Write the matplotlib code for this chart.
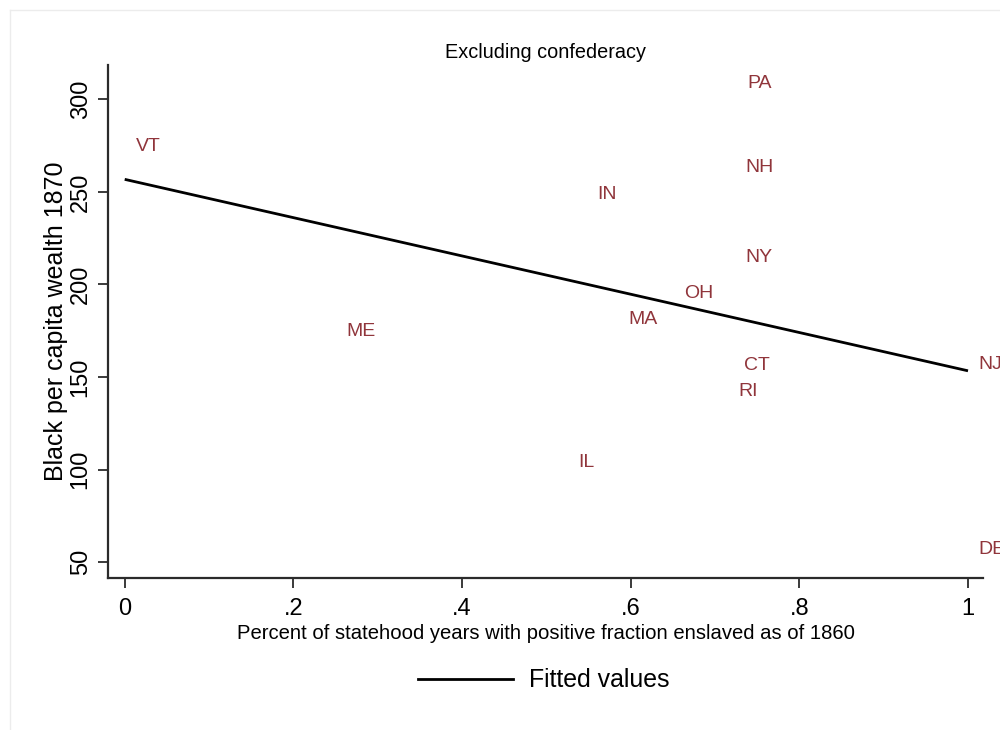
import numpy as np
import matplotlib
matplotlib.use("Agg")
import matplotlib.pyplot as plt
from matplotlib.lines import Line2D

plt.rcParams['font.family'] = ['Liberation Sans', 'DejaVu Sans']

# State-level data: share of statehood years with slavery vs. Black wealth in 1870
states = ["VT", "PA", "NH", "IN", "NY", "OH", "MA", "ME", "CT", "RI", "NJ", "IL", "DE"]
pct_enslaved_years = [0.000, 0.726, 0.723, 0.547, 0.723, 0.650, 0.584, 0.250,
                      0.722, 0.715, 1.000, 0.525, 1.000]
black_wealth_1870 = [275.6, 309.9, 264.3, 250.1, 215.7, 196.5, 182.5, 176.1,
                     157.6, 143.7, 158.2, 105.2, 58.5]

x_ticks = [0, 0.2, 0.4, 0.6, 0.8, 1.0]
x_tick_labels = ["0", ".2", ".4", ".6", ".8", "1"]
y_ticks = [50, 100, 150, 200, 250, 300]

label_color = "#90353B"
axis_color = "#2b2b2b"
label_size = 14

fig = plt.figure(figsize=(10, 7.3), dpi=100)
fig.patch.set_facecolor("white")

# faint outer graph-region frame
fig.add_artist(Line2D([0.010, 0.010], [0.0, 1 - 10 / 730], transform=fig.transFigure,
                      color="#ececec", lw=1))
fig.add_artist(Line2D([0.010, 1.0], [1 - 10 / 730, 1 - 10 / 730], transform=fig.transFigure,
                      color="#ececec", lw=1))

ax = fig.add_axes([0.1083, 0.2078, 0.8750, 0.7032])
ax.set_xlim(-0.01945, 1.01814)
ax.set_ylim(41.36, 318.52)

# linear fit through the state points
x = np.asarray(pct_enslaved_years)
y = np.asarray(black_wealth_1870)
slope, intercept = np.polyfit(x, y, 1)
xf = np.array([x.min(), x.max()])
ax.plot(xf, intercept + slope * xf, color="black", lw=2.0, solid_capstyle="butt",
        label="Fitted values", clip_on=False)

# state abbreviations as marker labels (no marker symbol), placed to the right
cap_half = 0.716 * label_size / 2
for name, xi, yi in zip(states, pct_enslaved_years, black_wealth_1870):
    ax.annotate(name, (xi, yi), xytext=(7.8, -cap_half), textcoords="offset points",
                ha="left", va="baseline", color=label_color, fontsize=label_size,
                annotation_clip=False, clip_on=False)

for side in ["top", "right"]:
    ax.spines[side].set_visible(False)
for side in ["left", "bottom"]:
    ax.spines[side].set_color(axis_color)
    ax.spines[side].set_linewidth(1.6)

ax.set_xticks(x_ticks)
ax.set_xticklabels(x_tick_labels)
ax.set_yticks(y_ticks)
ax.set_yticklabels([str(v) for v in y_ticks], rotation=90, va="center")
ax.tick_params(axis="both", direction="out", length=7, width=1.3, color=axis_color,
               labelsize=17, labelcolor="black")
ax.tick_params(axis="x", pad=7)
ax.tick_params(axis="y", pad=5)

ax.set_ylabel("Black per capita wealth 1870", fontsize=18, labelpad=1)
ax.set_xlabel("Percent of statehood years with positive fraction enslaved as of 1860",
              fontsize=14.6, labelpad=3)
ax.set_title("Excluding confederacy", fontsize=14.3, pad=5)

fig.legend(handles=[Line2D([], [], color="black", lw=2.0)], labels=["Fitted values"],
           loc="center", bbox_to_anchor=(0.544, 0.068), frameon=False, fontsize=17.9,
           handlelength=3.8, handletextpad=0.65)

fig.savefig("out.png", dpi=100, facecolor="white")
